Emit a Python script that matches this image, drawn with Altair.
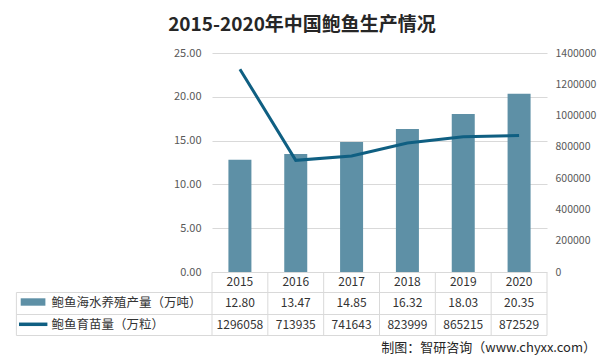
import altair as alt
import pandas as pd

# ---- data ----
years = ["2015", "2016", "2017", "2018", "2019", "2020"]
production = [12.80, 13.47, 14.85, 16.32, 18.03, 20.35]          # 鲍鱼海水养殖产量（万吨）
seedlings = [1296058, 713935, 741643, 823999, 865215, 872529]     # 鲍鱼育苗量（万粒）
series_names = ["鲍鱼海水养殖产量（万吨）", "鲍鱼育苗量（万粒）"]
left_ticks = [0, 5, 10, 15, 20, 25]
right_ticks = [0, 200000, 400000, 600000, 800000, 1000000, 1200000, 1400000]
title_text = "2015-2020年中国鲍鱼生产情况"
source_text = "制图：智研咨询（www.chyxx.com）"

df = pd.DataFrame({"year": years, "production": production, "seedlings": seedlings})
df["prod_label"] = [f"{v:.2f}" for v in production]
df["seed_label"] = [str(v) for v in seedlings]
one = pd.DataFrame({"k": [0]})

# ---- style ----
W, H = 335, 219
FONT = "Noto Sans CJK SC"
BAR = "#5E90A6"
LINE = "#0F5F82"
GRID = "#D9D9D9"
TXT = "#333333"

xscale = alt.Scale(type="band", paddingInner=0, paddingOuter=0)
xenc = alt.X("year:O", axis=None, scale=xscale)

base = alt.Chart(df)

bars = base.mark_bar(size=23, color=BAR).encode(
    x=xenc,
    y=alt.Y("production:Q", title=None,
            scale=alt.Scale(domain=[0, 25]),
            axis=alt.Axis(values=left_ticks, format=".2f", grid=True, gridColor=GRID,
                          labelPadding=11, orient="left")),
)

line = base.mark_line(color=LINE, strokeWidth=3).encode(
    x=xenc,
    y=alt.Y("seedlings:Q", title=None,
            scale=alt.Scale(domain=[0, 1400000]),
            axis=alt.Axis(values=right_ticks, format="d", grid=False,
                          labelPadding=8, orient="right", labelFontSize=10.5)),
)

def hrule(x1, x2, y):
    return alt.Chart(one).mark_rule(color=GRID, strokeWidth=1).encode(
        x=alt.value(x1), x2=alt.value(x2), y=alt.value(y))

TL = -195.6
table_rules = [
    hrule(0, W, 219.5),
    hrule(TL, W, 239.5),
    hrule(TL, W, 261.5),
    hrule(TL, W, 282.5),
    alt.Chart(one).mark_rule(color=GRID).encode(
        x=alt.value(TL), y=alt.value(239.5), y2=alt.value(282.5)),
    alt.Chart(one).mark_rule(color=GRID).encode(
        x=alt.value(W), y=alt.value(219.5), y2=alt.value(282.5)),
    base.mark_rule(color=GRID).encode(
        x=alt.X("year:O", axis=None, scale=xscale, bandPosition=0),
        y=alt.value(219.5), y2=alt.value(282.5)),
]

year_text = base.mark_text(font=FONT, fontSize=12, color=TXT).encode(
    x=xenc, y=alt.value(228.7), text="year:N")
prod_text = base.mark_text(font=FONT, fontSize=12, color=TXT).encode(
    x=xenc, y=alt.value(250.3), text="prod_label:N")
seed_text = base.mark_text(font=FONT, fontSize=12, color=TXT).encode(
    x=xenc, y=alt.value(272), text="seed_label:N")

sym_bar = alt.Chart(one).mark_rect(color=BAR).encode(
    x=alt.value(-191.3), x2=alt.value(-166.6), y=alt.value(245.3), y2=alt.value(252.7))
sym_line = alt.Chart(one).mark_rule(color=LINE, strokeWidth=3.5).encode(
    x=alt.value(-193), x2=alt.value(-164.6), y=alt.value(271.3))

lab1 = alt.Chart(one).mark_text(font=FONT, fontSize=12.5, color=TXT, align="left").encode(
    x=alt.value(-160.6), y=alt.value(250), text=alt.value(series_names[0]))
lab2 = alt.Chart(one).mark_text(font=FONT, fontSize=12.5, color=TXT, align="left").encode(
    x=alt.value(-160.6), y=alt.value(272), text=alt.value(series_names[1]))

title = alt.Chart(one).mark_text(font=FONT, fontSize=19, fontWeight="bold", color="#262626").encode(
    x=alt.value(90), y=alt.value(-28), text=alt.value(title_text))
source = alt.Chart(one).mark_text(font=FONT, fontSize=13, color="#262626", align="right").encode(
    x=alt.value(384), y=alt.value(295), text=alt.value(source_text))

chart = alt.layer(
    bars, line, *table_rules, year_text, prod_text, seed_text,
    sym_bar, sym_line, lab1, lab2, title, source
).resolve_scale(y="independent").properties(
    width=W, height=H,
    autosize=alt.AutoSizeParams(type="none"),
    padding={"left": 204, "top": 45, "right": 51, "bottom": 84},
).configure_view(stroke=None).configure_axis(
    domain=False, ticks=False, tickSize=0, labelFont=FONT, labelFontSize=11,
    labelColor="#595959",
)

chart.save("out.html", embed_options={"renderer": "svg", "actions": False})
